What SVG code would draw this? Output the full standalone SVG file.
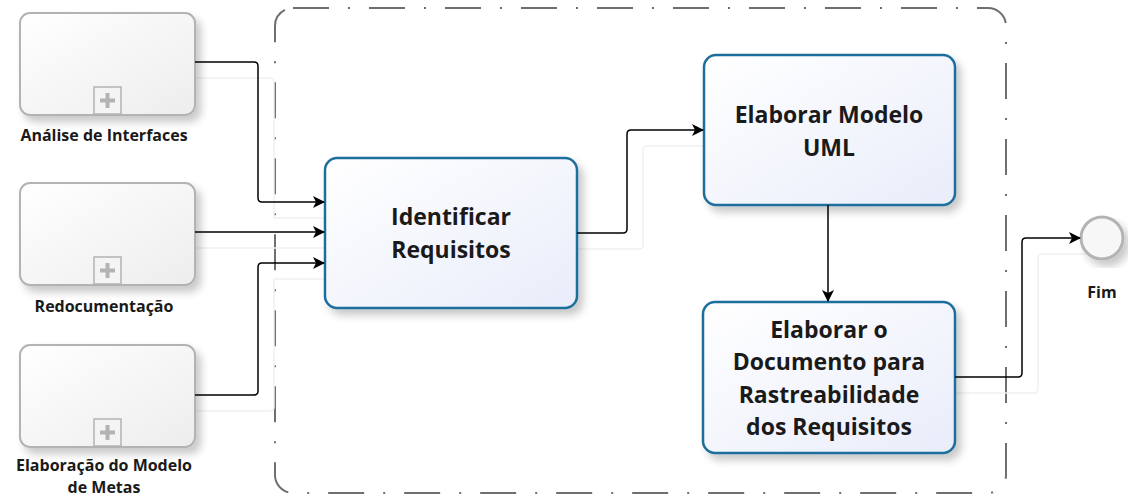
<svg xmlns="http://www.w3.org/2000/svg" width="1128" height="499" viewBox="0 0 1128 499">
  <defs>
    <linearGradient id="gTask" x1="0" y1="0" x2="1" y2="1">
      <stop offset="0" stop-color="#ffffff"/>
      <stop offset="1" stop-color="#e9edfa"/>
    </linearGradient>
    <linearGradient id="gSub" x1="0" y1="0" x2="1" y2="1">
      <stop offset="0" stop-color="#ffffff"/>
      <stop offset="1" stop-color="#ededed"/>
    </linearGradient>
    <filter id="shadow" x="-10%" y="-10%" width="130%" height="130%">
      <feGaussianBlur in="SourceAlpha" stdDeviation="4"/>
      <feOffset dx="5" dy="6" result="b"/>
      <feComponentTransfer><feFuncA type="linear" slope="0.22"/></feComponentTransfer>
      <feMerge><feMergeNode/><feMergeNode in="SourceGraphic"/></feMerge>
    </filter>
    <marker id="arrow" viewBox="0 0 12 12" refX="11" refY="6" markerWidth="12" markerHeight="12" markerUnits="userSpaceOnUse" orient="auto">
      <path d="M0,0 L12,6 L0,12 L3,6 Z" fill="#000"/>
    </marker>
    <style>
      .sub { fill: url(#gSub); stroke: #b3b3b3; stroke-width: 2; }
      .plus { fill: #f4f4f4; stroke: #b3b3b3; stroke-width: 1.5; }
      .task { fill: url(#gTask); stroke: #1f6e9c; stroke-width: 2.5; }
      .lbl { font-family: "Open Sans", "Noto Sans", sans-serif; font-weight: bold; font-size: 16px; fill: #1a1a1a; text-anchor: middle; }
      .tt { font-family: "Open Sans", "Noto Sans", sans-serif; font-weight: bold; font-size: 23px; fill: #1a1a1a; text-anchor: middle; }
      .conn { fill: none; stroke: #000; stroke-width: 1.5; }
      .ghost { fill: none; stroke: #f1f1f1; stroke-width: 1.5; }
      .pool { fill: none; stroke: #6f6f6f; stroke-width: 2; stroke-dasharray: 36 19 2 19; }
    </style>
  </defs>

  <rect width="1128" height="499" fill="#fff"/>

  <!-- group boundary -->
  <rect class="pool" x="275" y="8" width="731" height="485" rx="18"/>

  <!-- faint connector shadows -->
  <g id="connector-shadows">
    <path class="ghost" d="M195,78 H270 Q274,78 274,82 V218 H338"/>
    <path class="ghost" d="M195,248 H338"/>
    <path class="ghost" d="M195,411 H270 Q274,411 274,407 V279 H338"/>
    <path class="ghost" d="M577,249 H639 Q643,249 643,245 V150 Q643,146 647,146 H718"/>
    <path class="ghost" d="M955,393 H1034 Q1038,393 1038,389 V258 Q1038,254 1042,254 H1095"/>
  </g>

  <g id="node-analise" filter="url(#shadow)">
    <rect class="sub" x="20" y="13" width="175" height="102" rx="10"/>
    <rect class="plus" x="94" y="87" width="27" height="27"/>
    <path d="M107.5,93 V108 M100,100.5 H115" stroke="#b3b3b3" stroke-width="4"/>
  </g>
  <text class="lbl" x="104" y="141">Análise de Interfaces</text>

  <g id="node-redoc" filter="url(#shadow)">
    <rect class="sub" x="20" y="183" width="175" height="102" rx="10"/>
    <rect class="plus" x="94" y="257" width="27" height="27"/>
    <path d="M107.5,263 V278 M100,270.5 H115" stroke="#b3b3b3" stroke-width="4"/>
  </g>
  <text class="lbl" x="104" y="312">Redocumentação</text>

  <g id="node-metas" filter="url(#shadow)">
    <rect class="sub" x="20" y="345" width="175" height="102" rx="10"/>
    <rect class="plus" x="94" y="419" width="27" height="27"/>
    <path d="M107.5,425 V440 M100,432.5 H115" stroke="#b3b3b3" stroke-width="4"/>
  </g>
  <text class="lbl" x="104" y="471">Elaboração do Modelo</text>
  <text class="lbl" x="104" y="493">de Metas</text>

  <g id="node-identificar">
    <rect class="task" x="325" y="158" width="252" height="150" rx="12" filter="url(#shadow)"/>
    <text class="tt" x="451" y="225">Identificar</text>
    <text class="tt" x="451" y="258">Requisitos</text>
  </g>

  <g id="node-uml">
    <rect class="task" x="704" y="55" width="251" height="150" rx="12" filter="url(#shadow)"/>
    <text class="tt" x="829" y="123">Elaborar Modelo</text>
    <text class="tt" x="829" y="156">UML</text>
  </g>

  <g id="node-rastreabilidade">
    <rect class="task" x="703" y="302" width="252" height="151" rx="12" filter="url(#shadow)"/>
    <text class="tt" x="829" y="338">Elaborar o</text>
    <text class="tt" x="829" y="370">Documento para</text>
    <text class="tt" x="829" y="403">Rastreabilidade</text>
    <text class="tt" x="829" y="435">dos Requisitos</text>
  </g>

  <g id="node-fim">
    <circle cx="1102" cy="238" r="21" fill="#f7f7f7" stroke="#b3b3b3" stroke-width="3" filter="url(#shadow)"/>
    <text class="lbl" x="1102" y="298">Fim</text>
  </g>

  <g id="connectors">
    <path class="conn" marker-end="url(#arrow)" d="M195,62 H254 Q258,62 258,66 V198 Q258,202 262,202 H324"/>
    <path class="conn" marker-end="url(#arrow)" d="M195,232 H324"/>
    <path class="conn" marker-end="url(#arrow)" d="M195,395 H254 Q258,395 258,391 V267 Q258,263 262,263 H324"/>
    <path class="conn" marker-end="url(#arrow)" d="M577,233 H623 Q627,233 627,229 V134 Q627,130 631,130 H703"/>
    <path class="conn" marker-end="url(#arrow)" d="M828,205 V301"/>
    <path class="conn" marker-end="url(#arrow)" d="M955,377 H1018 Q1022,377 1022,373 V242 Q1022,238 1026,238 H1080"/>
  </g>
</svg>
